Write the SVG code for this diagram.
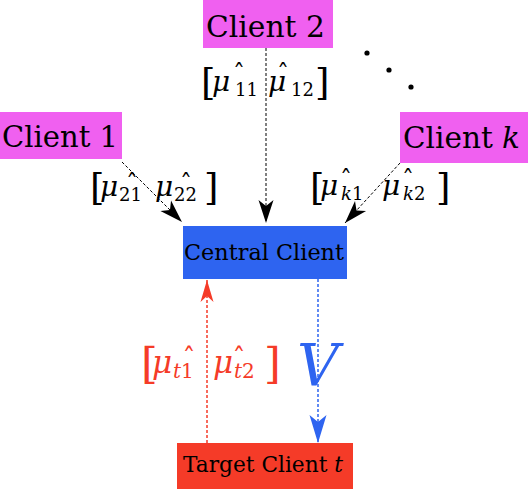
<svg xmlns="http://www.w3.org/2000/svg" width="528" height="489" viewBox="0 0 528 489">
<defs>
<style>
.box-m{fill:#F060F0}
.box-b{fill:#2E64F0}
.box-r{fill:#F53B28}
.t{font-family:"DejaVu Serif","Liberation Serif",serif;fill:#000}
.it{font-style:italic}
.br{font-family:"DejaVu Serif","Liberation Serif",serif;font-size:37px}
.mu{font-family:"DejaVu Serif","Liberation Serif",serif;font-style:italic;font-size:28px}
.sb{font-family:"DejaVu Serif","Liberation Serif",serif;font-size:18px}
.hat{font-family:"DejaVu Serif","Liberation Serif",serif;font-size:28px;text-anchor:middle}
.red text{fill:#F53B28}
.red .br{font-size:43px}
.red .mu{font-size:31px}
.red .sb{font-size:20px}
.red .hat{font-size:30px}
.ln{fill:none;stroke:#000;stroke-width:1;stroke-dasharray:3 2}
.lr{fill:none;stroke:#F53B28;stroke-width:1.5;stroke-dasharray:3 2}
.lb{fill:none;stroke:#2E64F0;stroke-width:1.5;stroke-dasharray:3 2}
</style>
<marker id="ak" viewBox="-24 -9 25 18" refX="0" refY="0" markerWidth="25" markerHeight="18" markerUnits="userSpaceOnUse" orient="auto">
<path d="M0,0 L-23,-7.5 L-17,0 L-23,7.5 Z" fill="#000"/>
</marker>
<marker id="ar" viewBox="-24 -9 25 18" refX="0" refY="0" markerWidth="25" markerHeight="18" markerUnits="userSpaceOnUse" orient="auto">
<path d="M0,0 L-22,-6.5 L-16,0 L-22,6.5 Z" fill="#F53B28"/>
</marker>
<marker id="ab" viewBox="-30 -10 31 20" refX="0" refY="0" markerWidth="31" markerHeight="20" markerUnits="userSpaceOnUse" orient="auto">
<path d="M0,0 L-28,-8.5 L-21,0 L-28,8.5 Z" fill="#2E64F0"/>
</marker>
</defs>
<rect width="528" height="489" fill="#fff"/>

<g id="connectors">
<line class="ln" x1="266" y1="48" x2="266" y2="223" marker-end="url(#ak)"/>
<line class="ln" x1="122" y1="162" x2="182" y2="222" marker-end="url(#ak)"/>
<line class="ln" x1="400" y1="163" x2="345" y2="223" marker-end="url(#ak)"/>
<line class="lr" x1="207" y1="443" x2="207" y2="280" marker-end="url(#ar)"/>
<line class="lb" x1="318" y1="279" x2="318" y2="443" marker-end="url(#ab)"/>
</g>

<g id="client2">
<rect class="box-m" x="203" y="0" width="130" height="48"/>
<text class="t" x="206" y="37" font-size="30" textLength="119" lengthAdjust="spacingAndGlyphs">Client 2</text>
</g>
<g id="client1">
<rect class="box-m" x="0" y="112" width="122" height="47"/>
<text class="t" x="2" y="147" font-size="30" textLength="116" lengthAdjust="spacingAndGlyphs">Client 1</text>
</g>
<g id="clientk">
<rect class="box-m" x="400" y="112" width="128" height="51"/>
<text class="t" x="403" y="148" font-size="30" textLength="117" lengthAdjust="spacingAndGlyphs">Client <tspan class="it">k</tspan></text>
</g>
<g id="central">
<rect class="box-b" x="183" y="226" width="164" height="53"/>
<text class="t" x="184" y="260" font-size="23" textLength="160" lengthAdjust="spacingAndGlyphs">Central Client</text>
</g>
<g id="target">
<rect class="box-r" x="177" y="443" width="176" height="46"/>
<text class="t" x="183" y="472" font-size="23" textLength="160" lengthAdjust="spacingAndGlyphs">Target Client <tspan class="it">t</tspan></text>
</g>

<g id="dots" fill="#000">
<circle cx="367" cy="53" r="2.6"/>
<circle cx="389" cy="70" r="2.6"/>
<circle cx="411" cy="87" r="2.6"/>
</g>

<g id="label-1">
<text class="br" x="201" y="95">[</text>
<text class="mu" x="212" y="91">μ</text>
<text class="sb" x="235" y="96">11</text>
<text class="hat" x="239" y="84" textLength="12" lengthAdjust="spacingAndGlyphs">ˆ</text>
<text class="mu" x="268" y="91">μ</text>
<text class="sb" x="291" y="96">12</text>
<text class="hat" x="283" y="84" textLength="12" lengthAdjust="spacingAndGlyphs">ˆ</text>
<text class="br" x="315" y="95">]</text>
</g>

<g id="label-2">
<text class="br" x="90" y="200">[</text>
<text class="mu" x="100" y="196">μ</text>
<text class="sb" x="119" y="201">21</text>
<text class="hat" x="132" y="194" textLength="12" lengthAdjust="spacingAndGlyphs">ˆ</text>
<text class="mu" x="155" y="196">μ</text>
<text class="sb" x="174" y="201">22</text>
<text class="hat" x="186" y="194" textLength="12" lengthAdjust="spacingAndGlyphs">ˆ</text>
<text class="br" x="204" y="200">]</text>
</g>

<g id="label-k">
<text class="br" x="310" y="200">[</text>
<text class="mu" x="320" y="195">μ</text>
<text class="sb" x="341" y="200"><tspan class="it">k</tspan>1</text>
<text class="hat" x="346" y="190" textLength="12" lengthAdjust="spacingAndGlyphs">ˆ</text>
<text class="mu" x="382" y="195">μ</text>
<text class="sb" x="403" y="200"><tspan class="it">k</tspan>2</text>
<text class="hat" x="408" y="190" textLength="12" lengthAdjust="spacingAndGlyphs">ˆ</text>
<text class="br" x="436" y="200">]</text>
</g>

<g id="label-t" class="red">
<text class="br" x="141" y="378">[</text>
<text class="mu" x="152" y="373">μ</text>
<text class="sb" x="173" y="378"><tspan class="it">t</tspan>1</text>
<text class="hat" x="189" y="369" textLength="13" lengthAdjust="spacingAndGlyphs">ˆ</text>
<text class="mu" x="213" y="373">μ</text>
<text class="sb" x="234" y="378"><tspan class="it">t</tspan>2</text>
<text class="hat" x="239" y="369" textLength="13" lengthAdjust="spacingAndGlyphs">ˆ</text>
<text class="br" x="264" y="378">]</text>
</g>

<g id="label-v">
<text x="297" y="385" font-family="DejaVu Serif, Liberation Serif, serif" font-style="italic" font-size="58" fill="#2E64F0">V</text>
</g>
</svg>
